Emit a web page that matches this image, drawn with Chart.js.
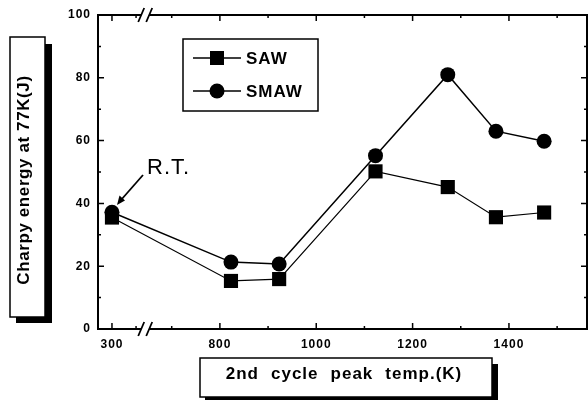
<!DOCTYPE html>
<html>
<head>
<meta charset="utf-8">
<script src="https://cdn.jsdelivr.net/npm/chart.js@4"></script>
<style>
  html, body { margin: 0; padding: 0; background: #fff; overflow: hidden; }
  #wrap { width: 588px; height: 400px; position: relative; }
  canvas { display: block; }
</style>
</head>
<body>
<div id="wrap"><canvas id="chart"></canvas></div>
<script>
// ==================== DATA ====================
const temps = [300, 823, 923, 1123, 1273, 1373, 1473];
const sawEnergy = [35.5, 15.3, 15.9, 50.2, 45.2, 35.6, 37.1];
const smawEnergy = [37.2, 21.3, 20.7, 55.2, 81, 63, 59.8];

const xTickTemps = [300, 800, 1000, 1200, 1400];
const xTickLabels = ['300', '800', '1000', '1200', '1400'];
const xMinorTemps = [350, 700, 900, 1100, 1300, 1500];
const yTicks = [0, 20, 40, 60, 80, 100];
const yMinor = [10, 30, 50, 70, 90];

const FONT = "'Liberation Sans', Arial, sans-serif";

// broken axis: the 300 K region is shifted right next to 800
function disp(t) {
    return t < 700 ? t + 276 : t;
}
const BREAK_AT = 645;

// ==================== DECORATION PLUGIN ====================
const spacing = {
    id: 'spacing',
    beforeDraw(chart) {
        chart.ctx.letterSpacing = '1px';
    }
};

const frame = {
    id: 'frame',
    afterDraw(chart) {
        const ctx = chart.ctx;
        const a = chart.chartArea;
        const xs = chart.scales.x;
        const ys = chart.scales.y;
        const bx = xs.getPixelForValue(BREAK_AT);

        ctx.save();
        ctx.strokeStyle = '#000';
        ctx.lineWidth = 2;
        ctx.lineCap = 'butt';

        // box with breaks on top and bottom
        ctx.beginPath();
        ctx.moveTo(a.left, a.top - 1); ctx.lineTo(a.left, a.bottom + 1);
        ctx.moveTo(a.right, a.top - 1); ctx.lineTo(a.right, a.bottom + 1);
        [a.top, a.bottom].forEach(y => {
            ctx.moveTo(a.left, y); ctx.lineTo(bx - 4, y);
            ctx.moveTo(bx + 4, y); ctx.lineTo(a.right, y);
        });
        ctx.stroke();

        // break marks
        ctx.lineWidth = 1.8;
        ctx.beginPath();
        [a.top, a.bottom].forEach(y => {
            [-4, 4].forEach(d => {
                ctx.moveTo(bx + d - 3, y + 7);
                ctx.lineTo(bx + d + 3, y - 7);
            });
        });
        ctx.stroke();

        // inward ticks
        ctx.lineWidth = 1.5;
        ctx.beginPath();
        xTickTemps.forEach(t => {
            const x = xs.getPixelForValue(disp(t));
            ctx.moveTo(x, a.bottom); ctx.lineTo(x, a.bottom - 6);
            ctx.moveTo(x, a.top); ctx.lineTo(x, a.top + 6);
        });
        xMinorTemps.forEach(t => {
            const x = xs.getPixelForValue(disp(t));
            ctx.moveTo(x, a.bottom); ctx.lineTo(x, a.bottom - 3);
            ctx.moveTo(x, a.top); ctx.lineTo(x, a.top + 3);
        });
        yTicks.forEach(v => {
            const y = ys.getPixelForValue(v);
            ctx.moveTo(a.left, y); ctx.lineTo(a.left + 6, y);
            ctx.moveTo(a.right, y); ctx.lineTo(a.right - 6, y);
        });
        yMinor.forEach(v => {
            const y = ys.getPixelForValue(v);
            ctx.moveTo(a.left, y); ctx.lineTo(a.left + 3, y);
            ctx.moveTo(a.right, y); ctx.lineTo(a.right - 3, y);
        });
        ctx.stroke();

        // legend box
        ctx.lineWidth = 1.5;
        ctx.strokeRect(183, 39, 135, 72);
        const rows = [
            { y: 58, label: 'SAW', style: 'rect' },
            { y: 91, label: 'SMAW', style: 'circle' }
        ];
        ctx.letterSpacing = '1px';
        ctx.font = 'bold 17px ' + FONT;
        ctx.textBaseline = 'middle';
        ctx.textAlign = 'left';
        ctx.fillStyle = '#000';
        rows.forEach(r => {
            ctx.lineWidth = 1.5;
            ctx.beginPath();
            ctx.moveTo(193, r.y); ctx.lineTo(241, r.y);
            ctx.stroke();
            ctx.beginPath();
            if (r.style === 'rect') {
                ctx.rect(210, r.y - 7, 14, 14);
            } else {
                ctx.arc(217, r.y, 7.5, 0, Math.PI * 2);
            }
            ctx.fill();
            ctx.fillText(r.label, 246, r.y + 1);
        });

        // R.T. annotation
        ctx.font = '22px ' + FONT;
        ctx.textBaseline = 'alphabetic';
        ctx.fillText('R.T.', 147, 174);
        ctx.lineWidth = 1.8;
        ctx.beginPath();
        ctx.moveTo(143, 175); ctx.lineTo(121, 200);
        ctx.stroke();
        ctx.beginPath();
        ctx.moveTo(117, 205); ctx.lineTo(119.5, 195.5); ctx.lineTo(125, 200.5);
        ctx.closePath();
        ctx.fill();

        // axis title boxes with drop shadow
        ctx.fillRect(45, 44, 7, 279);
        ctx.fillRect(16, 317, 36, 6);
        ctx.fillStyle = '#fff';
        ctx.fillRect(10, 37, 35, 280);
        ctx.fillStyle = '#000';
        ctx.lineWidth = 1.5;
        ctx.strokeRect(10, 37, 35, 280);

        ctx.fillRect(492, 364, 6, 36);
        ctx.fillRect(205, 397, 293, 3);
        ctx.fillStyle = '#fff';
        ctx.fillRect(200, 358, 292, 39);
        ctx.fillStyle = '#000';
        ctx.strokeRect(200, 358, 292, 39);

        ctx.font = 'bold 17px ' + FONT;
        ctx.textAlign = 'center';
        ctx.textBaseline = 'alphabetic';
        ctx.save();
        ctx.letterSpacing = '0.6px';
        ctx.translate(29, 180);
        ctx.rotate(-Math.PI / 2);
        ctx.fillText('Charpy energy at 77K(J)', 0, 0);
        ctx.restore();

        // x title with wide word gaps
        const words = ['2nd', 'cycle', 'peak', 'temp.(K)'];
        const gap = 12;
        const widths = words.map(w => ctx.measureText(w).width);
        const total = widths.reduce((s, w) => s + w, 0) + gap * (words.length - 1);
        let x = 344 - total / 2;
        ctx.textAlign = 'left';
        words.forEach((w, i) => {
            ctx.fillText(w, x, 379);
            x += widths[i] + gap;
        });

        ctx.restore();
    }
};

// ==================== CHART ====================
function toPoints(vals) {
    return temps.map((t, i) => ({ x: disp(t), y: vals[i] }));
}

new Chart(document.getElementById('chart'), {
    type: 'scatter',
    data: {
        datasets: [
            {
                label: 'SAW',
                data: toPoints(sawEnergy),
                showLine: true,
                borderColor: '#000',
                backgroundColor: '#000',
                borderWidth: 1.2,
                pointStyle: 'rect',
                pointRadius: 10,
                pointBorderWidth: 0
            },
            {
                label: 'SMAW',
                data: toPoints(smawEnergy),
                showLine: true,
                borderColor: '#000',
                backgroundColor: '#000',
                borderWidth: 1.5,
                pointStyle: 'circle',
                pointRadius: 7.5,
                pointBorderWidth: 0
            }
        ]
    },
    options: {
        responsive: true,
        maintainAspectRatio: false,
        animation: false,
        layout: { autoPadding: false, padding: { left: 0, top: 15, right: 1, bottom: 0 } },
        plugins: {
            legend: { display: false },
            tooltip: { enabled: false }
        },
        scales: {
            x: {
                type: 'linear',
                min: 547,
                max: 1562,
                afterBuildTicks: s => { s.ticks = xTickTemps.map(t => ({ value: disp(t) })); },
                afterFit: s => { s.height = 71; },
                grid: { display: false, drawTicks: false },
                border: { display: false },
                ticks: {
                    autoSkip: false,
                    maxRotation: 0,
                    padding: 8,
                    color: '#000',
                    font: { family: FONT, size: 12, weight: 'bold' },
                    callback: (v, i) => xTickLabels[i]
                }
            },
            y: {
                min: 0,
                max: 100,
                afterFit: s => { s.width = 98; },
                grid: { display: false, drawTicks: false },
                border: { display: false },
                ticks: {
                    stepSize: 20,
                    padding: 7,
                    color: '#000',
                    font: { family: FONT, size: 12, weight: 'bold' }
                }
            }
        }
    },
    plugins: [spacing, frame]
});
</script>
</body>
</html>
